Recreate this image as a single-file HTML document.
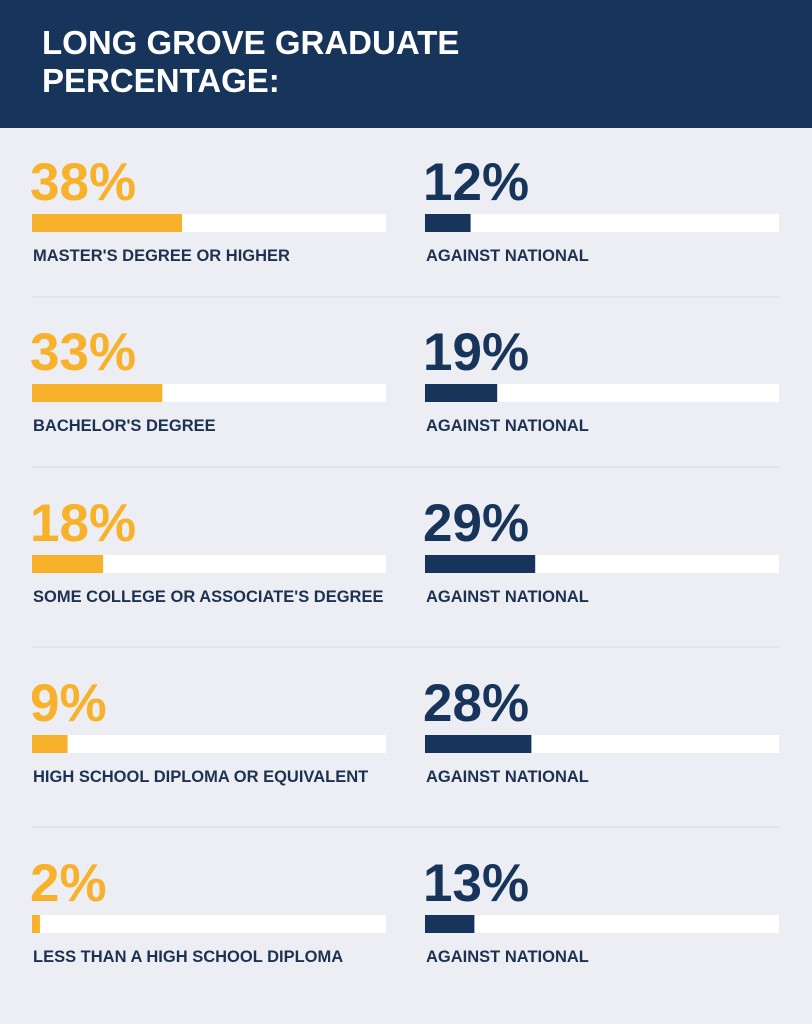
<!DOCTYPE html>
<html><head><meta charset="utf-8"><style>
html,body{margin:0;padding:0;background:#eceef3;}
svg{display:block;font-family:"Liberation Sans",sans-serif;font-weight:bold;}
</style></head><body>
<svg width="812" height="1024" viewBox="0 0 812 1024">
<rect x="0" y="0" width="812" height="1024" fill="#eceef3"/>
<rect x="0" y="0" width="812" height="128" fill="#17355a"/>
<text x="42" y="54" font-size="33" fill="#ffffff">LONG GROVE GRADUATE</text>
<text x="42" y="92" font-size="33" fill="#ffffff">PERCENTAGE:</text>
<g id="rows"></g>
</svg>
<script>
const categories = ["MASTER'S DEGREE OR HIGHER","BACHELOR'S DEGREE","SOME COLLEGE OR ASSOCIATE'S DEGREE","HIGH SCHOOL DIPLOMA OR EQUIVALENT","LESS THAN A HIGH SCHOOL DIPLOMA"];
const localValues = [38,33,18,9,2];
const nationalValues = [12,19,29,28,13];
const nationalLabel = "AGAINST NATIONAL";

const rowTops = [0,170,341,521,701];
function rowY(i){ return 161 + rowTops[i]; }
function xScaleLeft(v){ return v*3.95; }
function xScaleRight(v){ return v*3.8; }
const NS="http://www.w3.org/2000/svg";
const g=document.getElementById('rows');
function mk(tag,attrs,parent){const e=document.createElementNS(NS,tag);for(const k in attrs)e.setAttribute(k,attrs[k]);parent.appendChild(e);return e;}
categories.forEach((cat,i)=>{
  const y=rowY(i);
  const row=mk('g',{},g);
  
  
  [[32,localValues[i],'#f8b12b',cat,xScaleLeft,'local'],[425,nationalValues[i],'#17355a',nationalLabel,xScaleRight,'national']].forEach(([x0,v,col,lab,sc,kind])=>{
    const t=mk('text',{x:x0-2,y:y+39,'font-size':53,fill:col},row);
    t.textContent=v+'%';
    
    
    const tr=mk('rect',{x:x0,y:y+53,width:354,height:18,fill:'#ffffff'},row);
    
    
    const b=mk('rect',{x:x0,y:y+53,width:sc(v),height:18,fill:col},row);
    
    
    const l=mk('text',{x:x0+1,y:y+100,'font-size':16.5,fill:'#1d3251'},row);
    l.textContent=lab;
    
    
  });
  if(i<categories.length-1){
    const d=mk('line',{x1:32,x2:780,y1:y+136+(i==2||i==3?9:0)-(i==0?0:0),y2:y+136+(i==2||i==3?9:0),stroke:'#d9dce3','stroke-width':1},row);
    
    
  }
});
</script>
</body></html>
